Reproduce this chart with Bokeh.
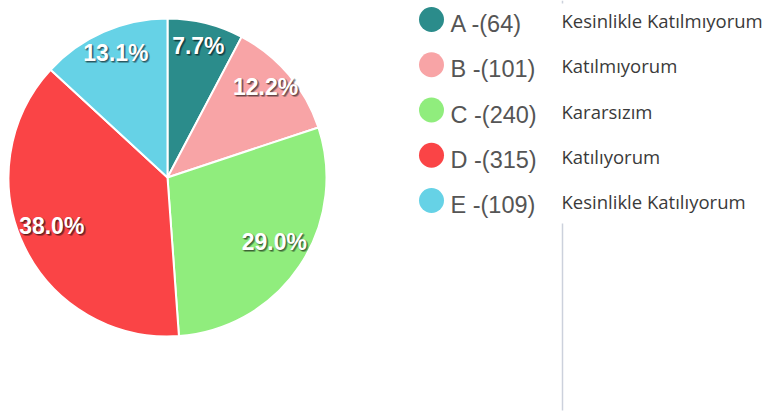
import math
from bokeh.plotting import figure
from bokeh.models import Range1d, ColumnDataSource
from bokeh.core.properties import value
from bokeh.embed import file_html
from bokeh.resources import INLINE

# ---- data ----
categories = ["A", "B", "C", "D", "E"]
counts = [64, 101, 240, 315, 109]
descriptions = ["Kesinlikle Katılmıyorum", "Katılmıyorum", "Kararsızım",
                "Katılıyorum", "Kesinlikle Katılıyorum"]
colors = ["#2b8c8b", "#f8a4a6", "#90ed7d", "#fa4446", "#66d2e6"]

# ---- layout (pixels) ----
W, H = 764, 414
CX, CY = 167, H - 177
R = 159
LR = 128.5
LEG_X = 431
LEG_Y0 = 19
LEG_STEP = 45.25

total = sum(counts)
starts, ends, mids, pcts = [], [], [], []
cum = 0.0
for c in counts:
    frac = c / total
    a0 = cum * 2 * math.pi
    a1 = (cum + frac) * 2 * math.pi
    starts.append(math.pi / 2 - a0)
    ends.append(math.pi / 2 - a1)
    mids.append((a0 + a1) / 2)
    pcts.append(f"{frac * 100:.1f}%")
    cum += frac

lx = [CX + LR * math.sin(m) for m in mids]
ly = [CY + LR * math.cos(m) + 7 for m in mids]

src = ColumnDataSource(dict(start=starts, end=ends, color=colors,
                            lx=lx, ly=ly, pct=pcts))

p = figure(width=W, height=H, output_backend="svg", toolbar_location=None,
           x_range=Range1d(0, W), y_range=Range1d(0, H),
           x_axis_location=None, y_axis_location=None, min_border=0)
p.grid.visible = False
p.outline_line_color = None
p.background_fill_color = "white"

# vertical separator line
p.segment(x0=[562, 562], y0=[H, H - 223], x1=[562, 562], y1=[H - 3, 4],
          line_color="#ccd1dc", line_width=1.5)

p.wedge(x=CX, y=CY, radius=R, start_angle="start", end_angle="end",
        direction="clock", fill_color="color", line_color="white",
        line_width=2, source=src)

# text shadow
for dx, dy in [(1, -1), (2, -2), (1, -2), (2, -1), (0, -1), (1, 0)]:
    p.text(x="lx", y="ly", text="pct", x_offset=dx, y_offset=-dy,
           text_font=value("Liberation Sans"), text_font_style="bold",
           text_font_size="23px", text_align="center",
           text_baseline="middle", text_color="black", text_alpha=0.18,
           source=src)
p.text(x="lx", y="ly", text="pct",
       text_font=value("Liberation Sans"), text_font_style="bold",
       text_font_size="23px", text_align="center", text_baseline="middle",
       text_color="white", source=src)

# legend
leg_y = [H - (LEG_Y0 + i * LEG_STEP) for i in range(len(categories))]
leg_labels = [f"{c} -({n})" for c, n in zip(categories, counts)]
lsrc = ColumnDataSource(dict(y=leg_y, ty=[y - 4.5 for y in leg_y],
                             dy=[y - 1 for y in leg_y],
                             color=colors, label=leg_labels,
                             desc=descriptions))
p.scatter(x=LEG_X, y="y", size=25, fill_color="color", line_color=None,
          source=lsrc)
p.text(x=450, y="ty", text="label", text_font=value("Liberation Sans"),
       text_font_size="23.5px", text_color="#555555", text_baseline="middle",
       source=lsrc)
p.text(x=561, y="dy", text="desc", text_font=value("Open Sans"),
       text_font_size="18.5px", text_color="#3a3a3a", text_baseline="middle",
       source=lsrc)

open("out.html", "w").write(file_html(p, INLINE))
